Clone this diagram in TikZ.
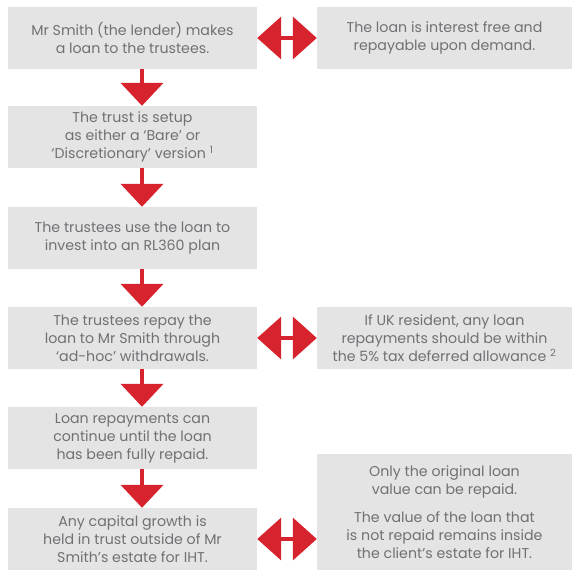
\documentclass[tikz,border=0pt]{standalone}
\usepackage{fontspec}
\setmainfont{Poppins}
\usetikzlibrary{arrows.meta}
\definecolor{boxgray}{HTML}{E4E4E4}
\definecolor{arrowred}{HTML}{D7232E}
\definecolor{txtgray}{HTML}{707174}
\begin{document}
\begin{tikzpicture}[x=1pt,y=-1pt,
  box/.style={fill=boxgray, draw=none, minimum width=249pt, minimum height=62pt, inner sep=0pt,
    align=center, text=txtgray, font=\fontsize{14.2}{18}\selectfont},
  rbox/.style={box, minimum width=255pt},
  downarrow/.style={draw=arrowred, line width=4.5pt, -{Triangle[width=42pt,length=23pt]}, shorten <=-0.5pt},
  duoarrow/.style={draw=arrowred, line width=4pt, {Triangle[width=42pt,length=24pt]}-{Triangle[width=42pt,length=24pt]}}
]
\useasboundingbox (0,0) rectangle (580,586);
\node[box] (b1) at (132.5,38) {Mr Smith (the lender) makes\\a loan to the trustees.};
\node[box] (b2) at (132.5,137) {The trust is setup\\as either a ‘Bare’ or\\‘Discretionary’ version \textsuperscript{1}};
\node[box] (b3) at (132.5,238) {The trustees use the loan to\\invest into an RL360 plan};
\node[box] (b4) at (132.5,338) {The trustees repay the\\loan to Mr Smith through\\‘ad-hoc’ withdrawals.};
\node[box] (b5) at (132.5,438) {Loan repayments can\\continue until the loan\\has been fully repaid.};
\node[box] (b6) at (132.5,539) {Any capital growth is\\held in trust outside of Mr\\Smith’s estate for IHT.};
\node[rbox] (r1) at (444.5,38) {The loan is interest free and\\repayable upon demand.};
\node[rbox] (r4) at (444.5,338) {If UK resident, any loan\\repayments should be within\\the 5\% tax deferred allowance \textsuperscript{2}};
\node[rbox, minimum height=116pt] (r6) at (444.5,512) {Only the original loan\\value can be repaid.\\[10pt]The value of the loan that\\is not repaid remains inside\\the client’s estate for IHT.};
\draw[downarrow] ([xshift=9.5pt]b1.south) -- ([xshift=9.5pt]b2.north);
\draw[downarrow] ([xshift=9.5pt]b2.south) -- ([xshift=9.5pt]b3.north);
\draw[downarrow] ([xshift=9.5pt]b3.south) -- ([xshift=9.5pt]b4.north);
\draw[downarrow] ([xshift=9.5pt]b4.south) -- ([xshift=9.5pt]b5.north);
\draw[downarrow] ([xshift=9.5pt]b5.south) -- ([xshift=9.5pt]b6.north);
\draw[duoarrow] (b1.east) -- (r1.west);
\draw[duoarrow] (b4.east) -- (r4.west);
\draw[duoarrow] (b6.east) -- (r6.west |- b6.east);
\end{tikzpicture}
\end{document}
